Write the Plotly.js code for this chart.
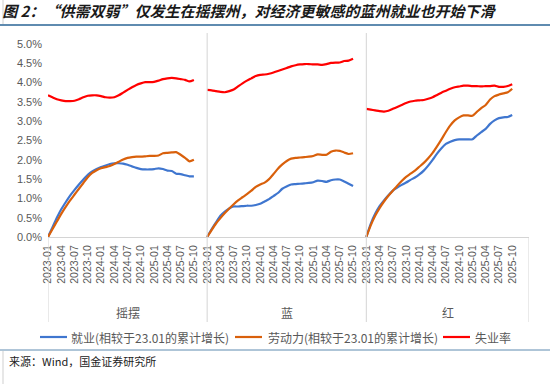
<!DOCTYPE html>
<html>
<head>
<meta charset="utf-8">
<script src="https://cdn.plot.ly/plotly-3.0.1.min.js"></script>
<style>
html,body{margin:0;padding:0;background:#fff;}
#chart{width:550px;height:384px;}
</style>
</head>
<body>
<div id="chart"></div>
<script>
// Months per panel (2023-01 .. 2025-10), tick labels every 3 months
const tickLabels = ["2023-01","2023-04","2023-07","2023-10","2024-01","2024-04","2024-07","2024-10","2025-01","2025-04","2025-07","2025-10"];
const panels = ["摇摆","蓝","红"];
const seriesNames = ["就业(相较于23.01的累计增长)","劳动力(相较于23.01的累计增长)","失业率"];
const yTicks = [0,0.5,1,1.5,2,2.5,3,3.5,4,4.5,5];

// 摇摆 (swing states), %
const swingEmp = [0,0.25,0.50,0.72,0.90,1.07,1.22,1.36,1.49,1.61,1.70,1.76,1.81,1.85,1.89,1.91,1.91,1.90,1.87,1.83,1.79,1.76,1.75,1.75,1.76,1.78,1.76,1.72,1.71,1.64,1.63,1.60,1.57,1.57];
const swingLab = [0,0.20,0.40,0.60,0.78,0.95,1.10,1.25,1.40,1.55,1.66,1.73,1.78,1.81,1.84,1.89,1.95,2.01,2.05,2.07,2.08,2.08,2.09,2.10,2.10,2.11,2.17,2.18,2.19,2.20,2.13,2.05,1.96,2.00];
const swingUnemp = [3.67,3.62,3.57,3.54,3.52,3.52,3.53,3.57,3.62,3.66,3.67,3.67,3.65,3.62,3.61,3.62,3.67,3.74,3.81,3.88,3.94,3.98,4.01,4.01,4.02,4.05,4.09,4.11,4.12,4.11,4.09,4.07,4.03,4.07];

// 蓝 (blue states), %
const blueEmp = [0,0.20,0.38,0.55,0.66,0.74,0.79,0.79,0.80,0.81,0.81,0.83,0.86,0.92,0.98,1.06,1.14,1.25,1.31,1.36,1.37,1.38,1.39,1.40,1.42,1.46,1.45,1.43,1.47,1.49,1.49,1.44,1.38,1.32];
const blueLab = [0,0.18,0.35,0.49,0.62,0.74,0.85,0.95,1.03,1.11,1.20,1.30,1.36,1.41,1.50,1.63,1.77,1.88,1.97,2.03,2.05,2.06,2.07,2.08,2.10,2.14,2.13,2.13,2.21,2.24,2.23,2.19,2.15,2.17];
const blueUnemp = [3.81,3.80,3.78,3.76,3.75,3.78,3.82,3.90,3.98,4.05,4.11,4.17,4.20,4.21,4.23,4.26,4.30,4.34,4.38,4.42,4.45,4.47,4.48,4.48,4.47,4.47,4.46,4.48,4.51,4.52,4.52,4.56,4.57,4.62];

// 红 (red states), %
const redEmp = [0,0.34,0.60,0.80,0.95,1.08,1.20,1.28,1.35,1.41,1.48,1.54,1.62,1.72,1.85,2.00,2.16,2.30,2.41,2.47,2.51,2.53,2.53,2.53,2.53,2.63,2.72,2.80,2.93,3.02,3.08,3.10,3.11,3.16];
const redLab = [0,0.30,0.55,0.75,0.92,1.07,1.20,1.33,1.45,1.56,1.64,1.72,1.82,1.92,2.04,2.18,2.35,2.53,2.72,2.89,3.02,3.10,3.15,3.15,3.14,3.24,3.34,3.42,3.56,3.65,3.69,3.72,3.75,3.84];
const redUnemp = [3.32,3.30,3.28,3.26,3.25,3.27,3.32,3.37,3.42,3.47,3.51,3.53,3.54,3.55,3.58,3.62,3.68,3.74,3.79,3.84,3.88,3.90,3.92,3.92,3.91,3.91,3.90,3.91,3.91,3.92,3.89,3.89,3.91,3.96];

const SLOTS = 36; // months per panel slot (2023-01..2025-12)
const colors = ["#3f76cf","#d9600b","#ff0000"];

function joinPanels(arrs){
  const xs=[], ys=[];
  arrs.forEach((a,p)=>{
    a.forEach((v,i)=>{ xs.push(p*SLOTS+i); ys.push(v); });
    if(p<arrs.length-1){ xs.push(null); ys.push(null); }
  });
  return {xs, ys};
}
const groups = [[swingEmp,blueEmp,redEmp],[swingLab,blueLab,redLab],[swingUnemp,blueUnemp,redUnemp]];
const traces = groups.map((g,k)=>{
  const d = joinPanels(g);
  return {x:d.xs, y:d.ys, type:"scatter", mode:"lines", name:seriesNames[k], showlegend:false,
    connectgaps:false, line:{color:colors[k], width:2.2, shape:"spline", smoothing:0.6}, hoverinfo:"skip"};
});

const tickvals=[], ticktext=[];
for(let p=0;p<3;p++){ tickLabels.forEach((t,j)=>{ tickvals.push(p*SLOTS+j*3); ticktext.push(t); }); }

const XMAX = 108.8;
const PL=48, PR=529, PT=33, PB=237;
const px2x = v => (v-PL)/(PR-PL);
const py2y = v => (PB-v)/(PB-PT);
const sepColor = "#d4d4d4";

const shapes = [];
[SLOTS, 2*SLOTS].forEach(xv=>{
  shapes.push({type:"line", xref:"x", yref:"paper", x0:xv, x1:xv, y0:py2y(322), y1:1, line:{color:sepColor, width:1}});
});
[0, XMAX].forEach(xv=>{
  shapes.push({type:"line", xref:"x", yref:"paper", x0:xv, x1:xv, y0:py2y(322), y1:0, line:{color:sepColor, width:1}});
});
// title underline and source separator
shapes.push({type:"line", xref:"paper", yref:"paper", x0:px2x(0), x1:px2x(550), y0:py2y(25), y1:py2y(25), line:{color:"#5f8bb0", width:2}});
shapes.push({type:"line", xref:"paper", yref:"paper", x0:px2x(0), x1:px2x(550), y0:py2y(350), y1:py2y(350), line:{color:"#5f8bb0", width:1}});
shapes.push({type:"line", xref:"paper", yref:"paper", x0:px2x(3), x1:px2x(3), y0:py2y(351), y1:py2y(384), line:{color:"#cfcfcf", width:1}});
shapes.push({type:"line", xref:"paper", yref:"paper", x0:px2x(3), x1:px2x(3), y0:py2y(0), y1:py2y(24), line:{color:"#cfcfcf", width:1}});

const annotations = panels.map((t,p)=>({
  text:t, xref:"x", yref:"paper", x:p*SLOTS + (p<2?SLOTS:XMAX-2*SLOTS)/2, y:py2y(312),
  showarrow:false, xanchor:"center", yanchor:"middle",
  font:{family:"Noto Sans CJK SC", size:12, color:"#595959"}
}));
annotations.push({text:"来源：Wind，国金证券研究所", xref:"paper", yref:"paper", x:px2x(7), y:py2y(361),
  showarrow:false, xanchor:"left", yanchor:"middle", font:{family:"Noto Sans CJK SC", size:11, color:"#222"}});

// legend (drawn manually so it stays on one row like the reference)
const legPos = [[40,67,69],[235,262,266],[443,470,473]];
seriesNames.forEach((n,k)=>{
  const [a,b,t] = legPos[k];
  shapes.push({type:"line", xref:"paper", yref:"paper", x0:px2x(a), x1:px2x(b), y0:py2y(337), y1:py2y(337), line:{color:colors[k], width:2.2}});
  annotations.push({text:n, xref:"paper", yref:"paper", x:px2x(t), y:py2y(337), showarrow:false, xanchor:"left", yanchor:"middle",
    font:{family:"Noto Sans CJK SC", size:12, color:"#595959"}});
});

const layout = {
  width:550, height:384,
  margin:{l:PL, r:550-PR, t:PT, b:384-PB},
  paper_bgcolor:"#fff", plot_bgcolor:"#fff",
  title:{text:"图 2：“供需双弱”仅发生在摇摆州，对经济更敏感的蓝州就业也开始下滑",
    xref:"container", yref:"container", x:0.004, xanchor:"left", y:1-12/384, yanchor:"middle",
    font:{family:"Noto Sans CJK SC", size:15, color:"#1a1a1a", weight:"bold", style:"italic"}},
  xaxis:{range:[0,XMAX], tickvals:tickvals, ticktext:ticktext, tickangle:-90,
    showgrid:false, zeroline:false, showline:true, linecolor:sepColor, linewidth:1,
    ticks:"", ticklabelstandoff:3,
    tickfont:{family:"Liberation Sans", size:10.5, color:"#595959"}, fixedrange:true},
  yaxis:{range:[0,5.285], tickvals:yTicks, ticktext:yTicks.map(v=>v.toFixed(1)+"%"),
    showgrid:false, zeroline:false, showline:false, ticks:"", ticklabelstandoff:5,
    tickfont:{family:"Liberation Sans", size:11, color:"#595959"}, fixedrange:true},
  showlegend:false,
  shapes:shapes, annotations:annotations
};
Plotly.newPlot("chart", traces, layout, {displayModeBar:false, staticPlot:true});
</script>
</body>
</html>
